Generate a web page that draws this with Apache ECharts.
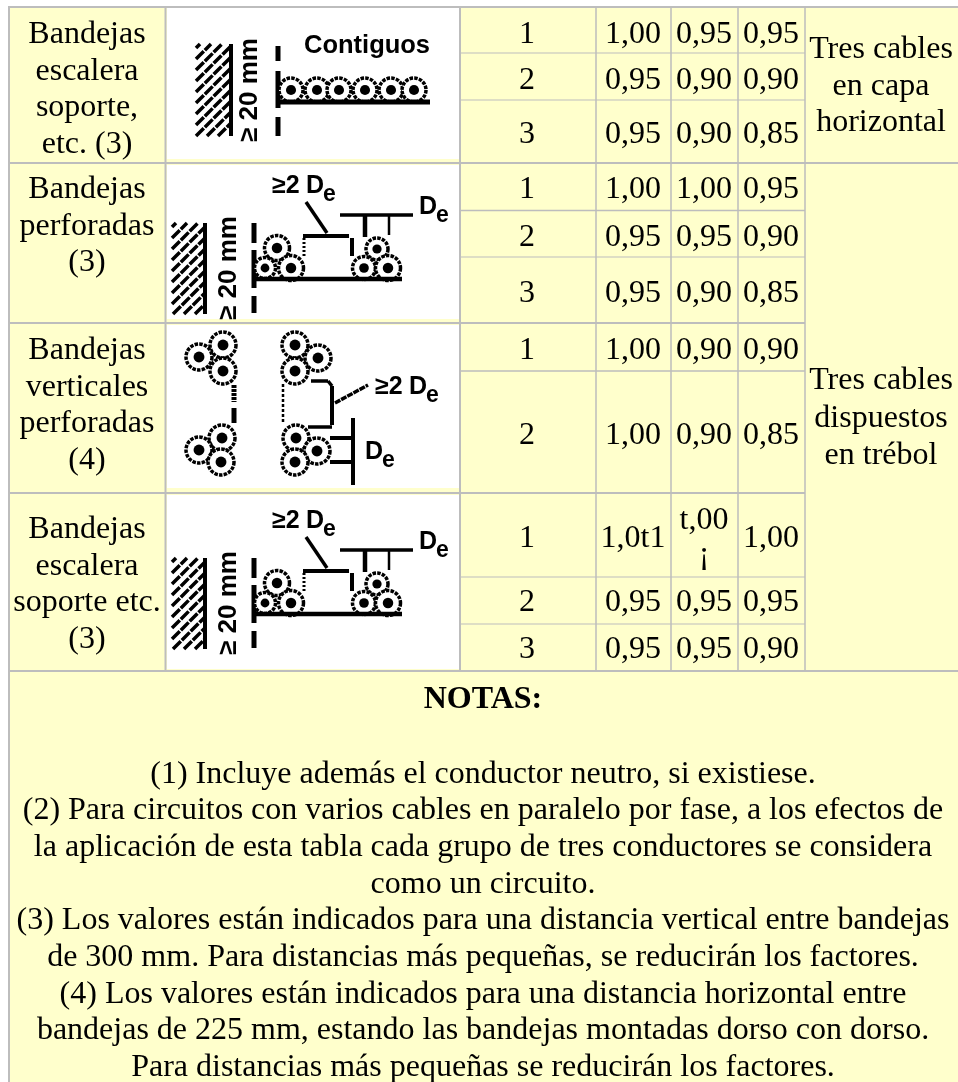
<!DOCTYPE html>
<html><head><meta charset="utf-8">
<style>html,body{margin:0;padding:0;background:#fff}#c{width:958px;height:1082px}</style>
<script src="https://cdn.jsdelivr.net/npm/echarts@6/dist/echarts.min.js"></script>
</head><body><div id="c"></div>
<script>
const trayLabels = [
  ['Bandejas','escalera','soporte,','etc. (3)'],
  ['Bandejas','perforadas','(3)'],
  ['Bandejas','verticales','perforadas','(4)'],
  ['Bandejas','escalera','soporte etc.','(3)']
];
const circuits = ['1','2','3','1','2','3','1','2','1','2','3'];
const factorsA = ['1,00','0,95','0,95','1,00','0,95','0,95','1,00','1,00','1,0t1','0,95','0,95'];
const factorsB = ['0,95','0,90','0,90','1,00','0,95','0,90','0,90','0,90','t,00','0,95','0,95'];
const factorsC = ['0,95','0,90','0,85','0,95','0,90','0,85','0,90','0,85','1,00','0,95','0,90'];
const layoutNotes = [['Tres cables','en capa','horizontal'],['Tres cables','dispuestos','en trébol']];
const notesTitle = 'NOTAS:';
const notes = [
  '(1) Incluye además el conductor neutro, si existiese.',
  '(2) Para circuitos con varios cables en paralelo por fase, a los efectos de',
  'la aplicación de esta tabla cada grupo de tres conductores se considera',
  'como un circuito.',
  '(3) Los valores están indicados para una distancia vertical entre bandejas',
  'de 300 mm. Para distancias más pequeñas, se reducirán los factores.',
  '(4) Los valores están indicados para una distancia horizontal entre',
  'bandejas de 225 mm, estando las bandejas montadas dorso con dorso.',
  'Para distancias más pequeñas se reducirán los factores.'
];

// layout
const rowY = [32,78,132,187,235,291,348,433,536,600,647];
const labelY = [[32,69,105,142],[187,224,260],[348,385,421,458],[527,564,600,637]];
const noteY = [772,808,845,882,918,955,992,1028,1065];
const GREY = '#bdbdbd', CELL = '#ffffcc', FONT = '"Liberation Serif","Times New Roman",serif';
const texts = [];
function t(x,y,s,bold){ texts.push({x,y:y+3,s,bold}); }
trayLabels.forEach((ls,i)=>ls.forEach((s,j)=>t(87,labelY[i][j],s)));
circuits.forEach((s,i)=>{
  t(527,rowY[i],s); t(633,rowY[i],factorsA[i]);
  t(704,i===8?518:rowY[i],factorsB[i]); t(771,rowY[i],factorsC[i]);
});
t(704,552,'¡');
layoutNotes[0].forEach((s,j)=>t(881,[47,84,120][j],s));
layoutNotes[1].forEach((s,j)=>t(881,[378,416,453][j],s));
t(483,697,notesTitle,true);
notes.forEach((s,i)=>t(483,noteY[i],s));

const rects = [
  [9,7,949,1075,CELL],
  [167,8,293,151,'#fff'],[167,165,293,154,'#fff'],[167,325,293,163,'#fff'],[167,495,293,174,'#fff']
];
const rules = [
  // x1,y1,x2,y2,width
  [8,7,958,7,2],[8,163,958,163,2],[8,323,805,323,2],[8,493,805,493,2],[8,671,958,671,2],
  [460,53,805,53,1],[460,100,805,100,1],[460,210.5,805,210.5,1.5],[460,257,805,257,1],
  [460,371,805,371,1.5],[460,577,805,577,1],[460,624,805,624,1],
  [9,7,9,1082,2],[165.5,7,165.5,671,2],[460,7,460,671,2],[596,7,596,671,1.5],[671,7,671,671,1.5],[738,7,738,671,1.5],[805,7,805,671,1.5]
];

// pictograms
const g = [];
function ln(x1,y1,x2,y2,w,dash){ g.push({type:'line',silent:true,z:20,shape:{x1,y1,x2,y2},style:{stroke:'#000',lineWidth:w||3,lineDash:dash||null}}); }
function cable(x,y,r){
  g.push({type:'circle',silent:true,z:20,shape:{cx:x,cy:y,r},style:{fill:'#fff',stroke:'#000',lineWidth:3.5,lineDash:[3.5,1.2]}});
  g.push({type:'circle',silent:true,z:21,shape:{cx:x,cy:y,r:r*0.42},style:{fill:'#000'}});
}
function txt(x,y,s,size,rot){ g.push({type:'text',silent:true,z:22,x,y,rotation:rot||0,style:{text:s,fill:'#000',font:'bold '+size+'px "Liberation Sans"',textAlign:'left',textVerticalAlign:'middle'}}); }
function De(x,y){ txt(x,y,'D',25); txt(x+17,y+9,'e',23); }
function wall(x,y1,y2,w){
  ln(x,y1,x,y2,4);
  for(let y0=y1+4;y0<=y2+w-4;y0+=11){
    let xs=x-w, ys=y0, xe=x, ye=y0-w;
    if(ys>y2){ xs+=ys-y2; ys=y2; }
    if(ye<y1){ xe-=y1-ye; ye=y1; }
    if(xe>xs) ln(xs,ys,xe,ye,3.5,[11,1.5]);
  }
}
function dim(x,y){ txt(x,y,'≥ 20 mm',26,Math.PI/2); }
function pictoTray(dy){
  wall(205,223+dy,314+dy,33);
  dim(229,320+dy);
  ln(254,223+dy,254,243+dy,5); ln(254,250+dy,254,288+dy,5); ln(254,296+dy,254,313+dy,5);
  [[277,248,12.5],[265,268,10.5],[291,268,12.5],[377,249,11],[364,268,11.5],[388,268,12.5]].forEach(c=>cable(c[0],c[1]+dy,c[2]));
  ln(254,279+dy,402,279+dy,4.5);
  ln(304,238+dy,304,258+dy,3,[2,2]);
  ln(303,236+dy,349,236+dy,4); ln(352,238+dy,352,256+dy,4);
  ln(306,202+dy,327,233+dy,3.5);
  ln(340,215+dy,413,215+dy,3.5);
  ln(365,215+dy,365,237+dy,4.5); ln(389,215+dy,389,235+dy,2.5);
  txt(272,186+dy,'≥2',25); De(306,186+dy); De(419,207+dy);
}
// diagram 1
wall(231,44,136,35);
dim(250,142);
ln(278,46,278,61,5); ln(278,71,278,108,5); ln(278,117,278,136,5);
txt(304,46,'Contiguos',25.5);
[291,317,339,365,391,414].forEach(x=>cable(x,90,12));
ln(278,102,430,102,5);
// diagrams 2 and 4
pictoTray(0); pictoTray(335);
// diagram 3
[[223,345],[199,357],[223,371],[222,438],[199,450],[221,462],[295,345],[318,358],[295,371],[296,438],[317,451],[295,462]].forEach(c=>cable(c[0],c[1],13));
ln(234,385,234,402,5,[3,1]); ln(234,408,234,423,5);
ln(283,384,283,424,2.5,[3,2]);
ln(311,381,328,381,3.5); ln(328,381,332,386,3.5); ln(332,386,332,425,4); ln(308,427,332,427,3.5);
ln(335,403,368,385,3.5,[6,1]);
txt(375,387,'≥2',25); De(409,387);
ln(353,418,353,485,4); ln(330,438,353,438,4); ln(330,462,353,462,4);
De(365,452);

const chart = echarts.init(document.getElementById('c'),null,{renderer:'canvas'});
chart.setOption({
  animation:false,
  backgroundColor:'#fff',
  grid:{left:0,right:0,top:0,bottom:0},
  xAxis:{type:'value',min:0,max:958,show:false},
  yAxis:{type:'value',min:0,max:1082,inverse:true,show:false},
  graphic:{elements:g},
  series:[
    {type:'custom',silent:true,clip:false,z:1,coordinateSystem:'cartesian2d',
     data:rects.map(r=>[r[0],r[1],r[2],r[3]]),
     renderItem(p,api){
       const a=api.coord([api.value(0),api.value(1)]);
       const b=api.coord([api.value(0)+api.value(2),api.value(1)+api.value(3)]);
       return {type:'rect',shape:{x:a[0],y:a[1],width:b[0]-a[0],height:b[1]-a[1]},style:{fill:rects[p.dataIndex][4]}};
     }},
    {type:'custom',silent:true,clip:false,z:2,coordinateSystem:'cartesian2d',
     data:rules.map(r=>r.slice(0,4)),
     renderItem(p,api){
       const a=api.coord([api.value(0),api.value(1)]);
       const b=api.coord([api.value(2),api.value(3)]);
       return {type:'line',shape:{x1:a[0],y1:a[1],x2:b[0],y2:b[1]},style:{stroke:GREY,lineWidth:rules[p.dataIndex][4]}};
     }},
    {type:'custom',silent:true,clip:false,z:3,coordinateSystem:'cartesian2d',
     data:texts.map(o=>[o.x,o.y]),
     renderItem(p,api){
       const a=api.coord([api.value(0),api.value(1)]), o=texts[p.dataIndex];
       return {type:'text',style:{text:o.s,x:a[0],y:a[1],fill:'#000',textAlign:'center',textVerticalAlign:'middle',font:(o.bold?'bold ':'')+'32px '+FONT}};
     }}
  ]
});
</script></body></html>
